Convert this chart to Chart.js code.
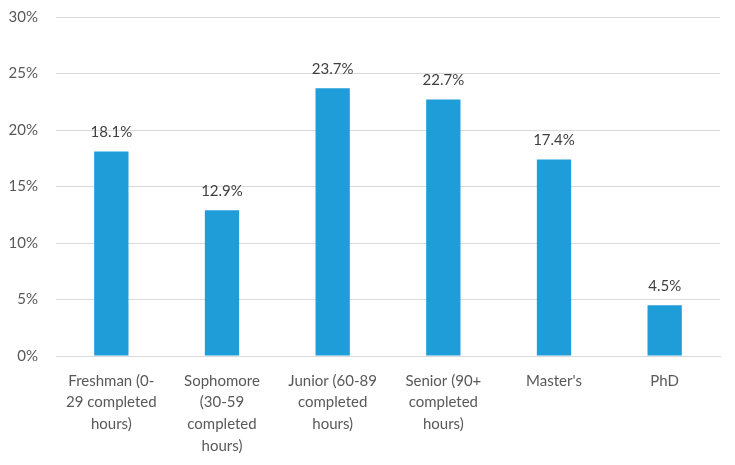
<!DOCTYPE html>
<html>
<head>
<meta charset="utf-8">
<script src="https://cdn.jsdelivr.net/npm/chart.js@4/dist/chart.umd.min.js"></script>
<style>
  html, body { margin: 0; padding: 0; background: #fff; }
  #wrap { width: 735px; height: 465px; }
</style>
</head>
<body>
<div id="wrap"><canvas id="levelChart" width="735" height="465"></canvas></div>
<script>
// categories (multi-line labels as in the original)
const categories = [
    ['Freshman (0-', '29 completed', 'hours)'],
    ['Sophomore', '(30-59', 'completed', 'hours)'],
    ['Junior (60-89', 'completed', 'hours)'],
    ['Senior (90+', 'completed', 'hours)'],
    ["Master's"],
    ['PhD']
];
const shares = [18.1, 12.9, 23.7, 22.7, 17.4, 4.5];
const yTicks = [0, 5, 10, 15, 20, 25, 30];

const textColor = '#595959';
const fontFamily = 'Lato, "Open Sans", sans-serif';

// draws the percentage above each bar
const valueLabels = {
    id: 'valueLabels',
    afterDatasetsDraw(chart) {
        const ctx = chart.ctx;
        const meta = chart.getDatasetMeta(0);
        ctx.save();
        ctx.font = '15px ' + fontFamily;
        ctx.fillStyle = '#404040';
        ctx.textAlign = 'center';
        ctx.textBaseline = 'middle';
        meta.data.forEach((bar, i) => {
            ctx.fillText(shares[i].toFixed(1) + '%', bar.x, bar.y - 19);
        });
        ctx.restore();
    }
};

const chart = new Chart(document.getElementById('levelChart'), {
    type: 'bar',
    data: {
        labels: categories,
        datasets: [{
            data: shares,
            backgroundColor: '#1f9dd9',
            barPercentage: 0.31,
            categoryPercentage: 1
        }]
    },
    options: {
        responsive: false,
        animation: false,
        layout: { padding: { top: 17, right: 15, left: 0, bottom: 0 } },
        plugins: {
            legend: { display: false },
            tooltip: { enabled: false }
        },
        scales: {
            x: {
                grid: { display: false, drawTicks: false },
                border: { color: '#d9d9d9', width: 1 },
                ticks: {
                    color: textColor,
                    font: { family: fontFamily, size: 15, lineHeight: 1.45 },
                    padding: 14,
                    maxRotation: 0,
                    autoSkip: false
                },
                afterFit(scale) { scale.height = 109; }
            },
            y: {
                min: 0,
                max: 30,
                afterBuildTicks(scale) {
                    scale.ticks = yTicks.map(v => ({ value: v }));
                },
                grid: { color: '#d9d9d9', drawTicks: false },
                border: { display: false },
                ticks: {
                    color: textColor,
                    font: { family: fontFamily, size: 15 },
                    padding: 18,
                    callback: v => v + '%'
                },
                afterFit(scale) {
                    scale.width = 56;
                    scale.paddingTop = 0;
                    scale.paddingBottom = 0;
                }
            }
        }
    },
    plugins: [valueLabels]
});
</script>
</body>
</html>
